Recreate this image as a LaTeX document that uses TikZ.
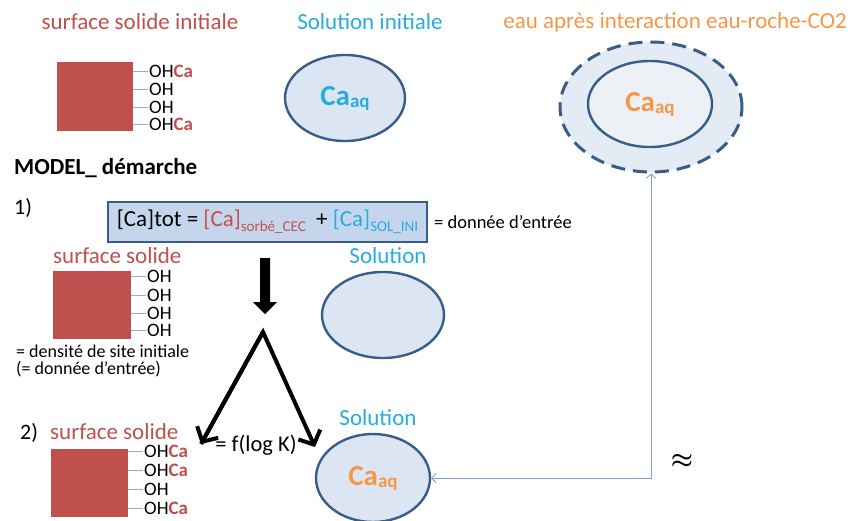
\documentclass[tikz,border=0pt]{standalone}
\usepackage{fontspec}
\setmainfont{Carlito}
\usetikzlibrary{arrows.meta,shapes.geometric}
\definecolor{tred}{HTML}{C0504D}
\definecolor{tcyan}{HTML}{27ACE2}
\definecolor{torange}{HTML}{F79646}
\definecolor{efill}{HTML}{DCE6F2}
\definecolor{edraw}{HTML}{385D8A}
\definecolor{bfill}{HTML}{C5D6EC}
\definecolor{tick}{HTML}{95AFCF}
\definecolor{conn}{HTML}{7F9FCF}
\newcommand{\fs}[1]{\fontsize{#1}{#1}\selectfont}
\newcommand{\caaq}[1]{\textcolor{#1}{{\fs{29}\bfseries Ca}{\fs{19}\bfseries\raisebox{-2pt}{aq}}}}
\tikzset{
  title/.style={font=\fs{23}, inner sep=0pt},
  soln/.style={ellipse, draw=edraw, line width=2.4pt, fill=efill, inner sep=0pt},
  solidbox/.style={fill=tred, draw=none},
  ticks/.style={draw=tick, line width=1pt},
  ohtxt/.style={font=\fs{19}, anchor=west, inner sep=0pt, text height=12pt, text depth=0pt},
  bigarr/.style={line width=4pt, -{Straight Barb[length=11pt,width=24pt,line width=4pt]}},
  thinarr/.style={draw=conn, line width=0.9pt, {Straight Barb[length=4pt,width=9pt]}-{Straight Barb[length=4pt,width=9pt]}},
}
\begin{document}
\begin{tikzpicture}[x=1pt,y=-1pt]
\useasboundingbox (0,0) rectangle (852,520);
% titles
\node[title, text=tred] (t1) at (140,22) {surface solide initiale};
\node[title, text=tcyan] (t2) at (370,22) {Solution initiale};
\node[title, text=torange] (t3) at (675,22) {eau après interaction eau-roche-CO2};
% solid 1
\fill[solidbox] (57,62) rectangle (133,131);
\foreach \yy/\tt in {71/{OH\textcolor{tred}{\bfseries Ca}},89/{OH},107/{OH},124/{OH\textcolor{tred}{\bfseries Ca}}}{
  \draw[ticks] (133,\yy) -- (148,\yy);
  \node[ohtxt] at (149,\yy) {\tt};
}
% solution 1
\node[soln, minimum width=120pt, minimum height=86pt] (e1) at (345,98) {\caaq{tcyan}};
% final water
\node[ellipse, draw=edraw, line width=3pt, dash pattern=on 14pt off 8pt, fill=efill!80, minimum width=182pt, minimum height=130pt, inner sep=0pt] (e4) at (651,107) {};
\node[soln, minimum width=124pt, minimum height=86pt, fill=efill!85!edraw!30] (e5) at (650,104) {\caaq{torange}};
% model
\node[font=\fs{23}\bfseries, anchor=west, inner sep=0pt] (mod) at (14,168) {MODEL\_ démarche};
\node[font=\fs{22}, anchor=west, inner sep=0pt] (n1) at (14,208) {1)};
\node[draw=edraw, line width=2.4pt, fill=bfill, minimum width=319pt, minimum height=40pt, inner sep=0pt] (box) at (267.5,222)
 {\fs{23}[Ca]tot = \textcolor{tred}{[Ca]}\raisebox{-5pt}{\fs{15}\textcolor{tred}{sorbé\_CEC}}\ \ + \textcolor{tcyan}{[Ca]}\raisebox{-5pt}{\fs{15}\textcolor{tcyan}{SOL\_INI}}};
\node[font=\fs{18.5}, anchor=west, inner sep=0pt] (don) at (434,222) {= donnée d’entrée};
% solid 2
\node[title, text=tred, anchor=west] (ss2) at (53,256) {surface solide};
\fill[solidbox] (53,271) rectangle (131,339);
\foreach \yy in {276,295,313,330}{
  \draw[ticks] (131,\yy) -- (146,\yy);
  \node[ohtxt] at (147,\yy) {OH};
}
\node[font=\fs{18}, anchor=west, inner sep=0pt] (dens) at (16,351) {= densité de site initiale};
\node[font=\fs{18}, anchor=west, inner sep=0pt] (dens2) at (16,369) {(= donnée d’entrée)};
% solution 2
\node[title, text=tcyan] (sol2) at (388,256) {Solution};
\node[soln, minimum width=122pt, minimum height=86pt] (e2) at (383,315) {};
% thick block arrow
\fill (260,258) -- (270,258) -- (270,302) -- (277,302) -- (265,314) -- (253,302) -- (260,302) -- cycle;
% split arrows
\coordinate (apex) at (263,332);
\coordinate (lt) at (201,444);
\coordinate (rt) at (315,447);
\draw[bigarr, line join=miter] (lt) -- (apex) -- (rt);
\draw[bigarr] (apex) -- (lt);
\node[font=\fs{22.5}, inner sep=0pt] (flog) at (256,445) {= f(log K)};
% solid 3
\node[font=\fs{22}, anchor=west, inner sep=0pt] (n2) at (20,433) {2)};
\node[title, text=tred, anchor=west] (ss3) at (50,432) {surface solide};
\fill[solidbox] (51,449) rectangle (128,517);
\foreach \yy/\tt in {451/{OH\textcolor{tred}{\bfseries Ca}},470/{OH\textcolor{tred}{\bfseries Ca}},489/{OH},508/{OH\textcolor{tred}{\bfseries Ca}}}{
  \draw[ticks] (128,\yy) -- (143,\yy);
  \node[ohtxt] at (144,\yy) {\tt};
}
% solution 3
\node[title, text=tcyan] (sol3) at (378,418) {Solution};
\node[soln, minimum width=114pt, minimum height=88pt] (e3) at (373,478) {\caaq{torange}};
% connector
\coordinate (corner) at (651,478);
\draw[thinarr] (e3.east) -- (corner) -- (e4.south);
\node[font=\fs{26}\boldmath, inner sep=0pt] (approx) at (682,461) {$\approx$};
\end{tikzpicture}
\end{document}
